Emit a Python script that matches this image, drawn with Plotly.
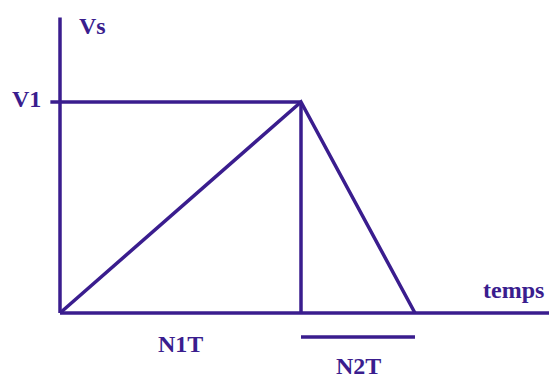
import plotly.graph_objects as go

# --- data (diagram units: time in T, voltage in V1) ---
n1 = 1.0          # N1T duration
n2 = 0.473        # N2T duration
v1 = 1.0          # peak voltage V1
wave_t = [0.0, n1, n1 + n2]
wave_v = [0.0, v1, 0.0]
labels = {"Vs": "Vs", "V1": "V1", "temps": "temps", "N1T": "N1T", "N2T": "N2T"}

COLOR = "#3a1d8e"
LW = 3.5
FONT = dict(family="Liberation Serif, Times New Roman, serif", size=24, color=COLOR)

# page has an 8px body margin; figure is sized to fill the remaining window
OFF = 8
W, H = 557 - OFF, 379 - OFF
PX_T, PX_V = 241.0, 211.0       # pixels per diagram unit
X0, Y0 = 60 - OFF, 313 - OFF    # origin within the figure

fig = go.Figure()

def seg(xs, ys):
    fig.add_trace(go.Scatter(x=xs, y=ys, mode="lines",
                             line=dict(color=COLOR, width=LW),
                             hoverinfo="skip", showlegend=False))

# axes
seg([0, 0], [0, 1.40])
seg([0, 2.3], [0, 0])
# V1 level
seg([-0.04, n1], [v1, v1])
# vertical at N1T
seg([n1, n1], [0, v1])
# waveform
seg(wave_t, wave_v)
# N2T bar
seg([n1, n1 + n2], [-0.114, -0.114])

def ann(text, x, y):
    fig.add_annotation(x=x, y=y, text="<b>%s</b>" % text, showarrow=False,
                       font=FONT, xanchor="center", yanchor="middle")

ann(labels["Vs"], 0.133, 1.36)
ann(labels["V1"], -0.137, 1.014)
ann(labels["temps"], 1.88, 0.109)
ann(labels["N1T"], n1 / 2, -0.147)
ann(labels["N2T"], n1 + n2 / 2, -0.252)

fig.update_xaxes(range=[-X0 / PX_T, (W - X0) / PX_T], visible=False, fixedrange=True)
fig.update_yaxes(range=[-(H - Y0) / PX_V, Y0 / PX_V], visible=False, fixedrange=True)
fig.update_layout(width=W, height=H, margin=dict(l=0, r=0, t=0, b=0),
                  paper_bgcolor="white", plot_bgcolor="white")

fig.write_html("out.html", config={"displayModeBar": False})
